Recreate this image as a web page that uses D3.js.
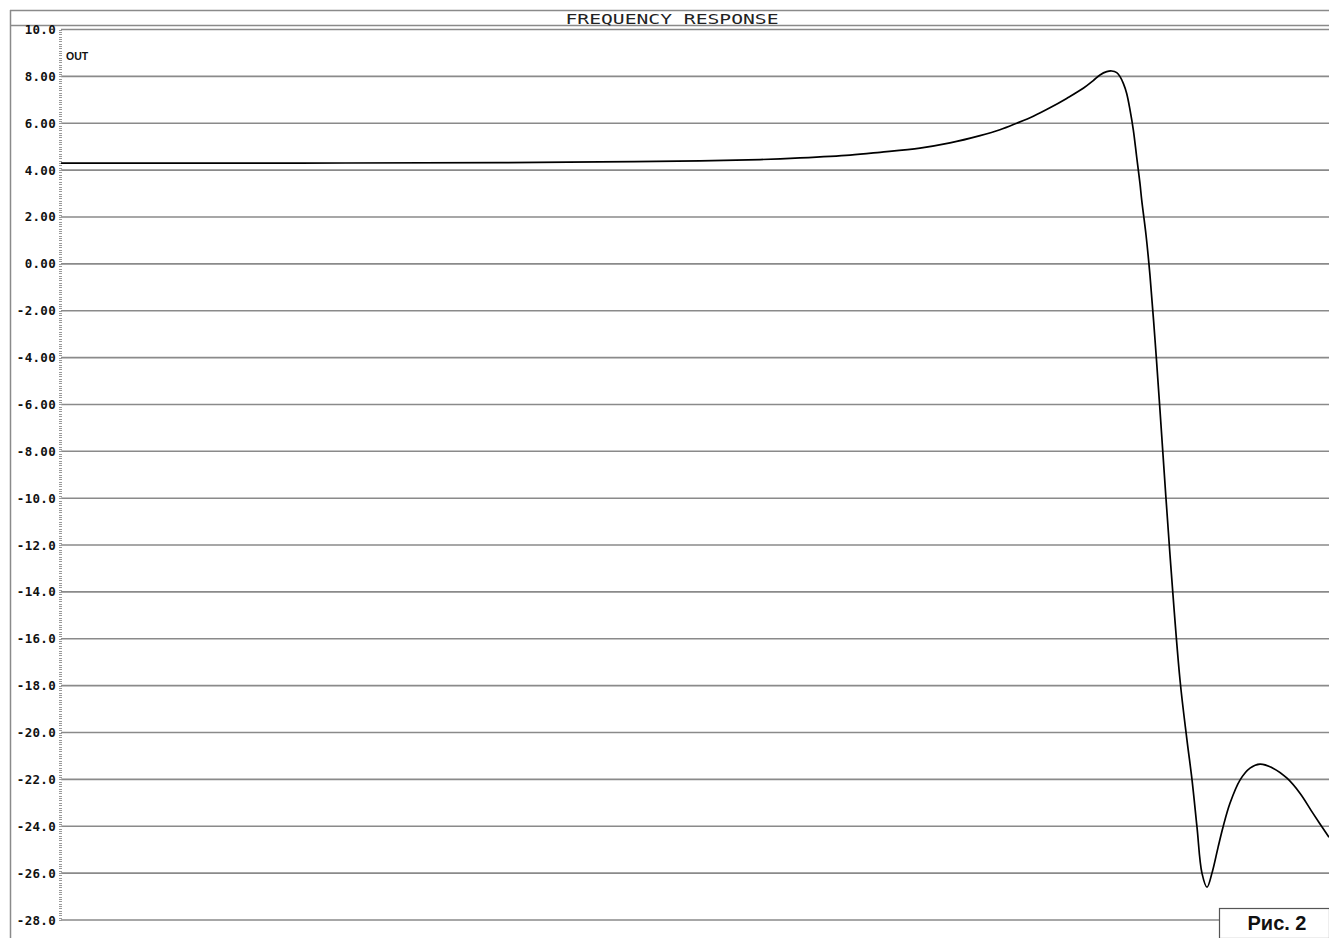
<!DOCTYPE html>
<html><head><meta charset="utf-8">
<script src="https://cdn.jsdelivr.net/npm/d3@7"></script>
<style>body{margin:0;background:#fff}svg{display:block}</style>
</head><body>
<svg id="c" width="1329" height="938"></svg>
<script>
// sweep position (% of horizontal span) and output level
const sweepPos = [0,18.85,34.62,42.51,50.39,55.13,58.28,62.22,64.59,67.74,70.11,72.48,74.05,75.37,76.68,77.99,79.31,80.62,81.41,81.94,82.47,82.86,83.26,83.52,83.78,84.04,84.31,84.57,84.83,85.09,85.23,85.57,85.88,86.28,86.67,87.46,88.25,88.80,89.20,89.59,89.98,90.38,90.77,91.25,91.64,92.19,92.98,93.77,94.56,95.58,96.69,97.71,98.74,100];
const outDb   = [4.30,4.30,4.32,4.35,4.39,4.45,4.52,4.64,4.76,4.94,5.16,5.47,5.72,6.00,6.30,6.66,7.06,7.49,7.82,8.06,8.20,8.23,8.16,7.99,7.70,7.28,6.56,5.71,4.57,3.44,2.72,1.23,-0.48,-3.25,-6.24,-12.42,-17.76,-20.32,-22.03,-24.04,-26.0,-26.6,-26.0,-24.9,-24.04,-23.02,-22.03,-21.52,-21.35,-21.52,-21.95,-22.59,-23.45,-24.47];
const yTicks = [10,8,6,4,2,0,-2,-4,-6,-8,-10,-12,-14,-16,-18,-20,-22,-24,-26,-28];
const yTickLabels = ["10.0","8.00","6.00","4.00","2.00","0.00","-2.00","-4.00","-6.00","-8.00","-10.0","-12.0","-14.0","-16.0","-18.0","-20.0","-22.0","-24.0","-26.0","-28.0"];
const titleText = "FREQUENCY RESPONSE";
const traceName = "OUT";
const figLabel = "Рис. 2";

const svg = d3.select("#c");
const W = 1329, H = 938;
const x = d3.scaleLinear().domain([0,100]).range([61, W]);
const y = d3.scaleLinear().domain([-28,10]).range([920, 29.5]);
const grey = "#8a8a8a";

// frame
svg.append("line").attr("x1",10.5).attr("x2",10.5).attr("y1",10).attr("y2",H).attr("stroke",grey).attr("stroke-width",1.5);
svg.append("line").attr("x1",10).attr("x2",W).attr("y1",10.5).attr("y2",10.5).attr("stroke",grey).attr("stroke-width",1.5);
svg.append("line").attr("x1",10).attr("x2",W).attr("y1",25.5).attr("y2",25.5).attr("stroke",grey).attr("stroke-width",1.5);

// title
svg.append("text").attr("x",672).attr("y",23.5).attr("text-anchor","middle")
  .attr("font-family","DejaVu Sans Mono").attr("font-size",14)
  .attr("textLength",213).attr("lengthAdjust","spacingAndGlyphs")
  .attr("fill","#222").text(titleText);

// grid lines
svg.append("g").selectAll("line").data(yTicks).join("line")
  .attr("x1",61).attr("x2",d => d === -28 ? 1219 : W)
  .attr("y1",d=>y(d)).attr("y2",d=>y(d))
  .attr("stroke",grey).attr("stroke-width",1.6);

// minor ticks (dotted axis)
const minor = d3.range(-280, 101).map(v => v/10);
svg.append("g").selectAll("line").data(minor).join("line")
  .attr("x1",59).attr("x2",62).attr("y1",d=>Math.round(y(d))+0.5).attr("y2",d=>Math.round(y(d))+0.5)
  .attr("stroke","#999").attr("stroke-width",1);

// y labels
svg.append("g").selectAll("text").data(yTicks).join("text")
  .attr("x",56).attr("y",d=>y(d)+4.5).attr("text-anchor","end")
  .attr("font-family","DejaVu Sans Mono").attr("font-weight","bold").attr("font-size",12.5)
  .attr("letter-spacing",0.3).attr("fill","#111")
  .text((d,i)=>yTickLabels[i]);

// trace name
svg.append("text").attr("x",66).attr("y",60).attr("font-family","Liberation Sans, Arial").attr("font-weight","bold")
  .attr("font-size",10.5).attr("fill","#111").text(traceName);

// curve
const pts = sweepPos.map((p,i)=>[p,outDb[i]]);
svg.append("path").datum(pts)
  .attr("d", d3.line().x(d=>x(d[0])).y(d=>y(d[1])).curve(d3.curveCatmullRom.alpha(0.5)))
  .attr("fill","none").attr("stroke","#000").attr("stroke-width",1.7);

// figure label box
svg.append("rect").attr("x",1219.5).attr("y",908.5).attr("width",W-1219).attr("height",H-908)
  .attr("fill","#fff").attr("stroke","#555").attr("stroke-width",1.2);
svg.append("text").attr("x",1277).attr("y",930).attr("text-anchor","middle")
  .attr("font-family","Liberation Sans, Arial").attr("font-weight","bold").attr("font-size",20)
  .attr("fill","#111").text(figLabel);
</script>
</body></html>
